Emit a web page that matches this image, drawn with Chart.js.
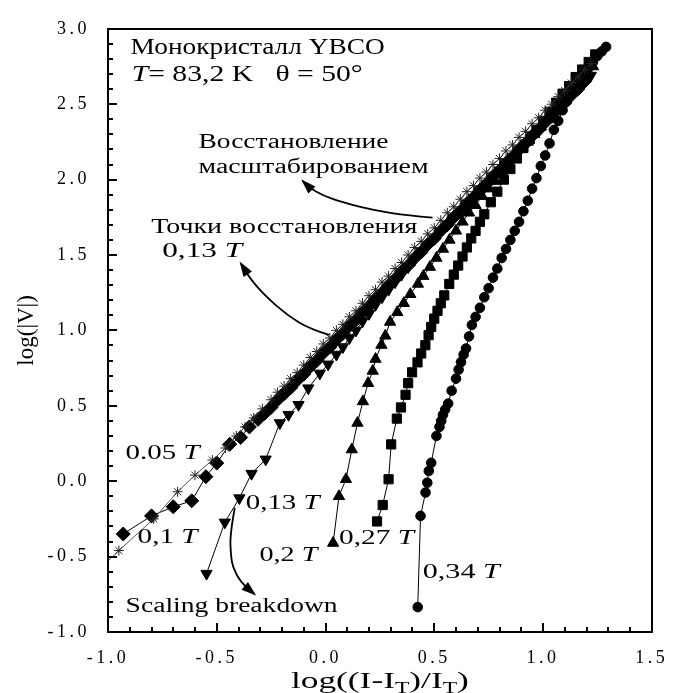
<!DOCTYPE html>
<html>
<head>
<meta charset="utf-8">
<script src="https://cdn.jsdelivr.net/npm/chart.js@4.4.1/dist/chart.umd.min.js"></script>
<style>
  html, body { margin:0; padding:0; background:#fff; }
  #wrap { width:678px; height:693px; }
</style>
</head>
<body>
<div id="wrap"><canvas id="c" width="678" height="693"></canvas></div>
<script>
// log(|V|) vs log((I-I_T)/I_T), one series per current level
const x005 = [-1.03,-0.95,-0.79,-0.68,-0.60,-0.52,-0.46,-0.41,-0.37,-0.33,-0.29,-0.25,-0.22,-0.19,-0.16,-0.13,-0.10,-0.07,-0.04,-0.01,0.02,0.05,0.08,0.11,0.14,0.17,0.20,0.23,0.26,0.29,0.32,0.35,0.38,0.41,0.44,0.47,0.50,0.53,0.56,0.59,0.62,0.65,0.68,0.71,0.74,0.77,0.80,0.83,0.86,0.89,0.92,0.95,0.98,1.01,1.04,1.07,1.10,1.13,1.16,1.19,1.22];
const y005 = [-0.57,-0.46,-0.25,-0.07,0.04,0.14,0.22,0.30,0.36,0.42,0.48,0.54,0.59,0.63,0.68,0.72,0.77,0.82,0.86,0.91,0.95,1.00,1.04,1.09,1.13,1.18,1.23,1.27,1.32,1.36,1.41,1.45,1.50,1.55,1.59,1.64,1.68,1.73,1.78,1.82,1.87,1.92,1.96,2.01,2.05,2.10,2.14,2.19,2.23,2.28,2.32,2.37,2.41,2.46,2.50,2.55,2.59,2.64,2.68,2.73,2.77];

const x010 = [-0.93,-0.80,-0.70,-0.615,-0.55,-0.50,-0.44,-0.39,-0.35,-0.31,-0.28,-0.25,-0.22,-0.19,-0.16,-0.13,-0.10,-0.07,-0.04,-0.01,0.02,0.05,0.08,0.11,0.14,0.17,0.20,0.23,0.26,0.29,0.32,0.35,0.38,0.41,0.44,0.47,0.50,0.53,0.56,0.59,0.62,0.65,0.68,0.71,0.74,0.77,0.80,0.83,0.86,0.89,0.92,0.95,0.98,1.01,1.04,1.07,1.10,1.13,1.16,1.19];
const y010 = [-0.35,-0.23,-0.17,-0.13,0.03,0.12,0.245,0.29,0.36,0.41,0.45,0.49,0.54,0.58,0.62,0.67,0.71,0.76,0.80,0.85,0.89,0.94,0.98,1.03,1.07,1.12,1.16,1.21,1.25,1.30,1.34,1.39,1.43,1.48,1.52,1.57,1.61,1.66,1.70,1.75,1.79,1.84,1.88,1.93,1.97,2.02,2.06,2.11,2.15,2.20,2.24,2.29,2.33,2.38,2.42,2.47,2.51,2.56,2.60,2.65];

const x013 = [-0.547,-0.463,-0.396,-0.34,-0.275,-0.21,-0.17,-0.124,-0.079,-0.026,0.012,0.05,0.08,0.11,0.14,0.17,0.20,0.23,0.26,0.29,0.32,0.35,0.38,0.41,0.44,0.47,0.50,0.53,0.56,0.59,0.62,0.65,0.68,0.71,0.74,0.77,0.80,0.83,0.86,0.89,0.92,0.95,0.98,1.01,1.04,1.07,1.10,1.13,1.16,1.19,1.22];
const y013 = [-0.613,-0.273,-0.112,0.05,0.145,0.386,0.441,0.507,0.617,0.715,0.775,0.84,0.89,0.95,1.00,1.06,1.11,1.17,1.22,1.27,1.32,1.37,1.42,1.47,1.52,1.57,1.61,1.66,1.70,1.75,1.79,1.84,1.88,1.93,1.97,2.02,2.06,2.11,2.15,2.20,2.24,2.29,2.33,2.38,2.42,2.47,2.51,2.56,2.60,2.65,2.69];

const x020 = [0.035,0.062,0.094,0.121,0.147,0.172,0.196,0.217,0.23,0.257,0.275,0.297,0.33,0.36,0.39,0.425,0.45,0.48,0.51,0.54,0.57,0.60,0.63,0.66,0.69,0.72,0.75,0.78,0.81,0.84,0.87,0.90,0.93,0.96,0.99,1.02,1.05,1.08,1.11,1.14,1.17,1.20,1.23];
const y020 = [-0.41,-0.10,0.013,0.21,0.386,0.529,0.65,0.731,0.81,0.903,0.964,1.056,1.12,1.18,1.24,1.308,1.36,1.42,1.48,1.54,1.60,1.66,1.72,1.78,1.83,1.89,1.94,1.99,2.05,2.10,2.15,2.20,2.25,2.30,2.35,2.40,2.45,2.50,2.55,2.60,2.65,2.70,2.75];

const x027 = [0.237,0.263,0.29,0.302,0.328,0.347,0.368,0.38,0.398,0.423,0.44,0.459,0.474,0.486,0.50,0.515,0.53,0.546,0.569,0.59,0.61,0.63,0.65,0.67,0.69,0.71,0.73,0.76,0.79,0.82,0.85,0.88,0.91,0.94,0.97,1.00,1.03,1.06,1.09,1.12,1.15,1.18,1.21,1.24];
const y027 = [-0.267,-0.158,0.013,0.244,0.415,0.489,0.573,0.65,0.722,0.788,0.847,0.902,0.968,1.023,1.078,1.13,1.18,1.232,1.308,1.37,1.43,1.49,1.55,1.61,1.66,1.72,1.77,1.85,1.92,2.00,2.07,2.14,2.21,2.27,2.33,2.39,2.45,2.51,2.57,2.62,2.68,2.73,2.78,2.83];

const x034 = [0.424,0.437,0.46,0.468,0.475,0.486,0.51,0.524,0.532,0.54,0.55,0.564,0.58,0.60,0.612,0.623,0.635,0.646,0.66,0.673,0.69,0.71,0.73,0.75,0.77,0.79,0.81,0.83,0.85,0.87,0.89,0.91,0.93,0.95,0.97,0.99,1.01,1.03,1.05,1.07,1.09,1.11,1.13,1.15,1.17,1.19,1.21,1.23,1.25,1.27,1.29];
const y034 = [-0.835,-0.23,-0.075,-0.01,0.068,0.122,0.30,0.36,0.40,0.44,0.475,0.515,0.60,0.68,0.74,0.79,0.84,0.88,0.96,1.036,1.09,1.15,1.22,1.28,1.35,1.41,1.48,1.54,1.60,1.66,1.72,1.79,1.86,1.94,2.01,2.09,2.16,2.24,2.33,2.39,2.46,2.52,2.57,2.61,2.66,2.70,2.74,2.78,2.82,2.85,2.88];

const xTicks = [-1.0,-0.5,0.0,0.5,1.0,1.5];
const yTicks = [-1.0,-0.5,0.0,0.5,1.0,1.5,2.0,2.5,3.0];

const SERIF = '"Liberation Serif", "DejaVu Serif", serif';
const pts = (xs, ys) => xs.map((x, i) => ({ x, y: ys[i] }));

const series = (data, style, r, extra = {}) => Object.assign({
  data, showLine:true, borderColor:'#000', borderWidth:1,
  pointStyle:style, pointRadius:r, pointHoverRadius:r,
  pointBackgroundColor:'#000', pointBorderColor:'#000', pointBorderWidth:1
}, extra);

// text in the plot: [runs, x, y (data units, left/baseline), font px, width px]
const notes = [
  [[['Монокристалл YBCO']], -0.896, 2.835, 23, 254],
  [[['T', 1], ['= 83,2 K   \u03b8 = 50\u00b0']], -0.891, 2.651, 23, 231],
  [[['Восстановление']], -0.584, 2.209, 20, 190],
  [[['масштабированием']], -0.584, 2.044, 20, 230],
  [[['Точки восстановления']], -0.801, 1.649, 20, 266],
  [[['0,13 '], ['T', 1]], -0.751, 1.484, 20, 80],
  [[['0.05 '], ['T', 1]], -0.919, 0.147, 20, 74],
  [[['0,1 '], ['T', 1]], -0.864, -0.407, 20, 60],
  [[['0,13 '], ['T', 1]], -0.367, -0.183, 20, 74],
  [[['0,2 '], ['T', 1]], -0.304, -0.526, 20, 58],
  [[['0,27 '], ['T', 1]], 0.062, -0.414, 20, 75],
  [[['0,34 '], ['T', 1]], 0.447, -0.644, 20, 77],
  [[['Scaling breakdown']], -0.919, -0.868, 20, 212]
];

// curved pointer arrows, tail -> head, data units
const arrows = [
  [[0.492,1.748],[0.379,1.761],[0.230,1.794],[0.081,1.847],[-0.010,1.893],[-0.073,1.946],[-0.105,1.992]],
  [[0.017,0.970],[-0.073,1.010],[-0.177,1.102],[-0.281,1.234],[-0.344,1.339],[-0.372,1.405],[-0.390,1.445]],
  [[-0.417,-0.176],[-0.439,-0.348],[-0.435,-0.493],[-0.426,-0.572],[-0.390,-0.671],[-0.326,-0.750]]
];

function drawRuns(ctx, runs, px, py, size, width) {
  const font = it => `${it ? 'italic ' : ''}${size}px ${SERIF}`;
  let nat = 0;
  runs.forEach(([t, it]) => { ctx.font = font(it); nat += ctx.measureText(t).width; });
  ctx.save();
  ctx.translate(px, py);
  ctx.scale(width ? width / nat : 1, 1);
  let cx = 0;
  runs.forEach(([t, it]) => { ctx.font = font(it); ctx.fillText(t, cx, 0); cx += ctx.measureText(t).width; });
  ctx.restore();
}

// plot box plus inward ticks: long at every 0.5, short at every 0.1
function drawBox(chart) {
  const { ctx, chartArea:a, scales:{ x, y } } = chart;
  const l = Math.round(a.left), r = Math.round(a.right), t = Math.round(a.top), b = Math.round(a.bottom);
  ctx.save();
  ctx.fillStyle = '#000';
  ctx.fillRect(l - 1, t - 1, r - l + 2, 2);
  ctx.fillRect(l - 1, b - 1, r - l + 2, 2);
  ctx.fillRect(l - 1, t - 1, 2, b - t + 2);
  ctx.fillRect(r - 1, t - 1, 2, b - t + 2);
  for (let i = 0; i <= 25; i++) {
    const p = Math.round(x.getPixelForValue(-1 + i / 10)), len = i % 5 ? 5 : 9;
    ctx.fillRect(p - 1, b - len, 2, len);
  }
  for (let i = 0; i <= 40; i++) {
    const p = Math.round(y.getPixelForValue(-1 + i / 10)), len = i % 5 ? 5 : 9;
    ctx.fillRect(l, p - 1, len, 2);
  }
  ctx.restore();
}

function drawNotes(chart) {
  const { ctx, chartArea:a, scales:{ x, y } } = chart;
  ctx.save();
  ctx.letterSpacing = '0px';
  ctx.fillStyle = '#000';
  ctx.strokeStyle = '#000';
  ctx.textBaseline = 'alphabetic';

  notes.forEach(([runs, vx, vy, size, w]) =>
    drawRuns(ctx, runs, x.getPixelForValue(vx), y.getPixelForValue(vy), size, w));

  ctx.lineWidth = 1.8;
  arrows.forEach(path => {
    const p = path.map(([vx, vy]) => [x.getPixelForValue(vx), y.getPixelForValue(vy)]);
    ctx.beginPath();
    ctx.moveTo(p[0][0], p[0][1]);
    for (let i = 1; i < p.length - 1; i++) {
      const mx = (p[i][0] + p[i + 1][0]) / 2, my = (p[i][1] + p[i + 1][1]) / 2;
      ctx.quadraticCurveTo(p[i][0], p[i][1], mx, my);
    }
    const [hx, hy] = p[p.length - 1], [bx, by] = p[p.length - 2];
    ctx.lineTo(hx, hy);
    ctx.stroke();
    const ang = Math.atan2(hy - by, hx - bx), L = 13, W = 5;
    ctx.beginPath();
    ctx.moveTo(hx + Math.cos(ang) * 2, hy + Math.sin(ang) * 2);
    ctx.lineTo(hx - Math.cos(ang) * L - Math.sin(ang) * W, hy - Math.sin(ang) * L + Math.cos(ang) * W);
    ctx.lineTo(hx - Math.cos(ang) * L + Math.sin(ang) * W, hy - Math.sin(ang) * L - Math.cos(ang) * W);
    ctx.closePath();
    ctx.fill();
  });

  // axis titles
  const cx = (a.left + a.right) / 2;
  const sub = 16, big = 24;
  const parts = [['log((I-I', big, 0], ['T', sub, 5], [')/I', big, 0], ['T', sub, 5], [')', big, 0]];
  let nat = 0;
  parts.forEach(([t, s]) => { ctx.font = `${s}px ${SERIF}`; nat += ctx.measureText(t).width; });
  const tw = 178;
  ctx.save();
  ctx.translate(cx - tw / 2, 688);
  ctx.scale(tw / nat, 1);
  let px = 0;
  parts.forEach(([t, s, dy]) => { ctx.font = `${s}px ${SERIF}`; ctx.fillText(t, px, dy); px += ctx.measureText(t).width; });
  ctx.restore();

  ctx.save();
  ctx.translate(33, (a.top + a.bottom) / 2);
  ctx.rotate(-Math.PI / 2);
  ctx.font = `23px ${SERIF}`;
  ctx.textAlign = 'center';
  ctx.fillText('log(|V|)', 0, 0);
  ctx.restore();
  ctx.restore();
}

const notesPlugin = {
  id:'notes',
  // wide spacing for the tick numbers
  beforeDraw(chart) { chart.ctx.letterSpacing = '3.5px'; },
  beforeDatasetsDraw(chart) { chart.ctx.letterSpacing = '0px'; },
  afterDatasetsDraw(chart) { drawBox(chart); },
  afterDraw(chart) { drawNotes(chart); }
};

Chart.defaults.font.family = SERIF;
Chart.defaults.color = '#000';

new Chart(document.getElementById('c'), {
  type:'scatter',
  data:{ datasets:[
    series(pts(x005, y005), 'star', 5, { borderColor:'#555', pointBorderColor:'#222' }),
    series(pts(x010, y010), 'rectRot', 7),
    series(pts(x013, y013), 'triangle', 6.5, { pointRotation:180 }),
    series(pts(x020, y020), 'triangle', 6.5),
    series(pts(x027, y027), 'rect', 6.5),
    series(pts(x034, y034), 'circle', 4.8)
  ]},
  options:{
    responsive:false, animation:false, devicePixelRatio:1,
    layout:{ padding:{ top:25, right:17, left:0, bottom:0 } },
    plugins:{ legend:{ display:false }, tooltip:{ enabled:false } },
    scales:{
      x:{
        type:'linear', min:-1, max:1.5,
        afterBuildTicks: s => { s.ticks = xTicks.map(v => ({ value:v })); },
        afterFit: s => { s.height = 61; },
        ticks:{ callback: v => v.toFixed(1), font:{ size:18 }, padding:15, maxRotation:0, autoSkip:false },
        grid:{ display:false, drawTicks:false }, border:{ display:false }
      },
      y:{
        type:'linear', min:-1, max:3,
        afterBuildTicks: s => { s.ticks = yTicks.map(v => ({ value:v })); },
        afterFit: s => { s.width = 108; },
        ticks:{ callback: v => v.toFixed(1), font:{ size:18 }, padding:18, autoSkip:false },
        grid:{ display:false, drawTicks:false }, border:{ display:false }
      }
    }
  },
  plugins:[notesPlugin]
});
</script>
</body>
</html>
